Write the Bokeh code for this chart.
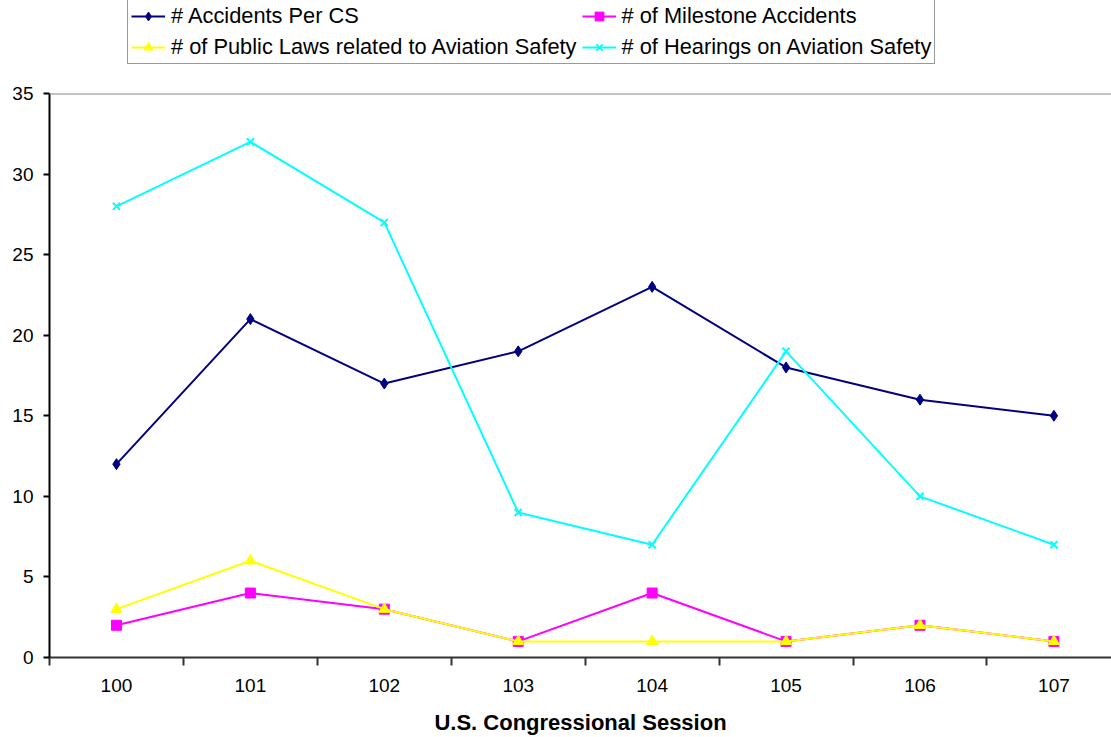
from bokeh.plotting import figure
from bokeh.layouts import column
from bokeh.models import Range1d, FixedTicker, Legend, LegendItem, Span
from bokeh.embed import file_html
from bokeh.resources import INLINE

sessions = ["100", "101", "102", "103", "104", "105", "106", "107"]
accidents_per_cs = [12, 21, 17, 19, 23, 18, 16, 15]
milestone_accidents = [2, 4, 3, 1, 4, 1, 2, 1]
public_laws = [3, 6, 3, 1, 1, 1, 2, 1]
hearings = [28, 32, 27, 9, 7, 19, 10, 7]
y_ticks = [0, 5, 10, 15, 20, 25, 30, 35]

xs = list(range(len(sessions)))
FONT = "Liberation Sans"
LEG_H = 70

p = figure(width=1111, height=737 - LEG_H, output_backend="svg", toolbar_location=None,
           x_range=Range1d(-0.5, 7.43), y_range=Range1d(0, 35),
           min_border_left=49, min_border_right=0, min_border_top=93 - LEG_H, min_border_bottom=80)
p.outline_line_color = None
p.xgrid.visible = False
p.ygrid.visible = False

# top boundary line
p.add_layout(Span(location=35, dimension="width", line_color="#888888", line_width=2))

# legend strip
lg = figure(width=1111, height=LEG_H, output_backend="svg", toolbar_location=None,
            x_range=Range1d(0, 1), y_range=Range1d(0, 1), x_axis_type=None, y_axis_type=None,
            min_border_left=0, min_border_right=0, min_border_top=0, min_border_bottom=0)
lg.outline_line_color = None
lg.xgrid.visible = False
lg.ygrid.visible = False

series = [
    ("# Accidents Per CS", accidents_per_cs, "#000080", "diamond", 11),
    ("# of Milestone Accidents", milestone_accidents, "#FF00FF", "square", 10),
    ("# of Public Laws related to Aviation Safety", public_laws, "#FFFF00", "triangle", 11),
    ("# of Hearings on Aviation Safety", hearings, "#00FFFF", "x", 10),
]
items = []
for name, vals, col, mk, sz in series:
    p.line(xs, vals, line_color=col, line_width=2)
    p.scatter(xs, vals, marker=mk, size=sz, fill_color=col, line_color=col,
              line_width=2 if mk == "x" else 1)
    # proxy renderers (off-frame) used only for the legend swatches
    lr = lg.line([5, 6], [5, 6], line_color=col, line_width=2)
    sr = lg.scatter([5], [5], marker=mk, size=sz, fill_color=col, line_color=col,
                    line_width=2 if mk == "x" else 1)
    items.append(LegendItem(label=name, renderers=[lr, sr]))

legend = Legend(items=items, orientation="horizontal", ncols=2,
                location=(78, 6),
                label_text_font=FONT, label_text_font_size="21.8px", label_text_color="black",
                glyph_width=34, glyph_height=22, label_standoff=6, spacing=5,
                padding=3, margin=0, border_line_color="#333333", border_line_width=1,
                background_fill_alpha=1.0, label_height=22)
lg.add_layout(legend, "center")

xa = p.xaxis[0]
xa.ticker = FixedTicker(ticks=xs, minor_ticks=[i - 0.5 for i in range(len(sessions) + 1)])
xa.major_label_overrides = {i: s for i, s in enumerate(sessions)}
xa.major_tick_out = 0
xa.major_tick_in = 0
xa.minor_tick_out = 8
xa.minor_tick_in = 0
xa.minor_tick_line_color = "#333333"
xa.axis_line_color = "#333333"
xa.axis_line_width = 2
xa.minor_tick_line_width = 2
xa.major_label_text_font = FONT
xa.major_label_text_font_size = "19px"
xa.major_label_text_color = "black"
xa.major_label_standoff = 13
xa.axis_label = "U.S. Congressional Session"
xa.axis_label_text_font = FONT
xa.axis_label_text_font_size = "22px"
xa.axis_label_text_font_style = "bold"
xa.axis_label_text_color = "black"
xa.axis_label_standoff = 15

ya = p.yaxis[0]
ya.ticker = FixedTicker(ticks=y_ticks)
ya.minor_tick_line_color = None
ya.major_tick_out = 6
ya.major_tick_in = 0
ya.axis_line_color = "black"
ya.axis_line_width = 2
ya.major_tick_line_width = 2
ya.major_label_text_font = FONT
ya.major_label_text_font_size = "19px"
ya.major_label_text_color = "black"
ya.major_label_standoff = 10

layout = column(lg, p, spacing=0)
open("out.html", "w").write(file_html(layout, INLINE))
